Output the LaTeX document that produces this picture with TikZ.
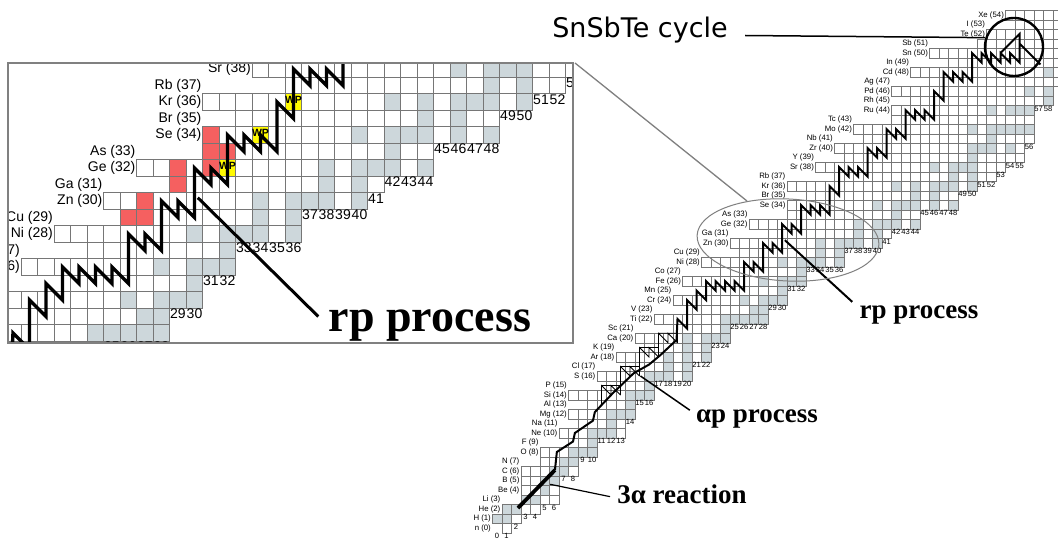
\documentclass[tikz,border=0pt]{standalone}
\usepackage{fontspec}
\setmainfont{Liberation Serif}
\setsansfont{Liberation Sans}
\newfontfamily\cyclefont{DejaVu Sans}
\usetikzlibrary{calc}

\definecolor{stablegray}{RGB}{205,215,219}
\definecolor{cellgray}{RGB}{118,118,118}
\definecolor{framegray}{RGB}{128,128,128}
\definecolor{unboundred}{RGB}{245,96,96}
\definecolor{wpyellow}{RGB}{255,250,0}

\tikzset{
  cell/.style={draw=cellgray, line width=0.45pt},
  elname/.style={anchor=east, inner sep=1.2pt, font=\sffamily\fontsize{7.8}{8}\selectfont},
  nnum/.style={inner sep=0pt, font=\sffamily\fontsize{7.6}{8}\selectfont},
  rpline/.style={line width=2pt},
  tripleline/.style={line width=3.8pt},
  apline/.style={line width=0.8pt},
  leader/.style={line width=1.5pt},
  proclabel/.style={anchor=base, inner sep=0pt, font=\bfseries\fontsize{27}{30}\selectfont},
  wptext/.style={inner sep=0pt, font=\sffamily\bfseries\fontsize{10.5}{11}\selectfont},
  rp path/.style={insert path={
    (6.1,6.1) -- (6.3,8) -- (8,9.1) -- (8.2,10) -- (10.1,11.3) -- (10.3,12.2)
    -- (12.2,14.2) -- (14.4,16.3) -- (16,17.2) -- (17.2,18.2) -- (18.9,19.8)
    -- (19,22) -- (20,21) -- (20,24) -- (21,23) -- (21,25) -- (22,24) -- (22,26)
    -- (23,25) -- (23,26) -- (24,25) -- (24,26) -- (25,25) -- (25,26) -- (26,25)
    -- (26,28) -- (27,27) -- (27,28) -- (28,27) -- (28,30) -- (29,29) -- (29,30)
    -- (30,29) -- (30,32) -- (31,31) -- (31,32) -- (32,31) -- (32,34) -- (33,33)
    -- (33,34) -- (34,33) -- (34,34) -- (35,33) -- (35,36) -- (36,35) -- (36,38)
    -- (37,37) -- (37,38) -- (38,37) -- (38,38) -- (39,37) -- (39,40) -- (40,39)
    -- (40,40) -- (41,39) -- (41,42) -- (42,41) -- (42,42) -- (43,41) -- (43,44)
    -- (44,43) -- (44,44) -- (45,43) -- (45,44) -- (46,43) -- (46,46) -- (47,45)
    -- (47,48) -- (48,47) -- (48,48) -- (49,47) -- (49,48) -- (50,47) -- (50,50)
    -- (51,49) -- (51,50) -- (52,49) -- (52,50) -- (53,49) -- (53,50) -- (54,49)
    -- (54,50) -- (55,49) -- (55,52) -- (53,50)
    (55,51) -- (57.2,48.8)}},
}

% which labels are set (the inset narrows these)
\newcommand{\elzlo}{0}
\newcommand{\elzhi}{99}
\newcommand{\numzlo}{0}
\newcommand{\numnhi}{99}

% stable nuclides (grey), in chart units (N,Z)
\newcommand{\chartfills}{%
  \foreach \z/\stab in {1/{0,1},2/{1,2},3/{3,4},4/{5},5/{5,6},6/{6,7},7/{7,8},
      8/{8,9,10},9/{10},10/{10,11,12},11/{12},12/{12,13,14},13/{14},14/{14,15,16},
      15/{16},16/{16,17,18,20},17/{18,20},18/{18,20,22},19/{20,22},20/{20,22,23,24},
      21/{24},22/{24,25,26,27,28},23/{27,28},24/{26,28,29,30},25/{30},26/{28,30,31,32},
      27/{32},28/{30,32,33,34,36},29/{34,36},30/{34,36,37,38,40},31/{38,40},
      32/{38,40,41,42,44},33/{42},34/{40,42,43,44,46,48},35/{44,46},
      36/{42,44,46,47,48,50},37/{48,50},38/{46,48,49,50},39/{50},40/{50,51,52,54},
      41/{52},42/{50,52,53,54,55,56},44/{52,54,55,56},45/{58},46/{56,58},47/{60},48/{58,60}}
    {\foreach \nn in \stab {\fill[stablegray] (\nn-0.5,\z-0.5) rectangle ++(1,1);}}%
}

% cell grid, element names and neutron numbers
\newcommand{\chartcells}{%
  \foreach \z/\sym/\nmin/\nmax/\lx in {0/n/1/1/-0.5,1/H/0/2/-0.5,2/He/1/4/0.5,
      3/Li/3/6/0.5,4/Be/3/6/2.5,5/B/3/6/2.5,6/C/3/8/2.5,7/N/5/8/2.5,8/O/5/10/4.5,
      9/F/8/10/4.5,10/Ne/7/13/6.5,11/Na/9/13/6.5,12/Mg/8/14/7.5,13/Al/10/14/7.5,
      14/Si/8/16/7.5,15/P/12/16/7.5,16/S/11/20/10.5,17/Cl/14/20/10.5,18/Ar/13/22/12.5,
      19/K/16/22/12.5,20/Ca/15/24/14.5,21/Sc/19/24/14.5,22/Ti/17/28/16.5,
      23/V/21/28/16.5,24/Cr/19/30/18.5,25/Mn/23/30/18.5,26/Fe/20/32/19.5,
      27/Co/24/32/19.5,28/Ni/22/36/21.5,29/Cu/26/36/21.5,30/Zn/25/40/24.5,
      31/Ga/29/41/24.5,32/Ge/27/44/26.5,33/As/31/44/26.5,34/Se/31/48/30.5,
      35/Br/33/48/30.5,36/Kr/31/50/30.5,37/Rb/36/52/30.5,38/Sr/34/53/33.5,
      39/Y/37/55/33.5,40/Zr/36/55/35.5,41/Nb/39/56/35.5,42/Mo/38/56/37.5,
      43/Tc/42/56/37.5,44/Ru/42/56/41.5,45/Rh/44/58/41.5,46/Pd/42/58/41.5,
      47/Ag/46/62/41.5,48/Cd/44/62/43.5,49/In/48/62/43.5,50/Sn/46/62/45.5,
      51/Sb/51/62/45.5,52/Te/52/62/51.5,53/I/55/62/51.5,54/Xe/54/62/53.5}
    {\foreach \nn in {\nmin,...,\nmax} {\draw[cell] (\nn-0.5,\z-0.5) rectangle ++(1,1);}
     \ifnum\z<\elzlo\relax\else\ifnum\z>\elzhi\relax\else
       \node[elname] (el\z) at (\lx,\z) {\sym\ (\z)};
     \fi\fi}
  \foreach \nn/\zl in {0/0,1/0,2/1,3/2,4/2,5/3,6/3,7/6,8/6,9/8,10/8,11/10,12/10,13/10,
      14/12,15/14,16/14,17/16,18/16,19/16,20/16,21/18,22/18,23/20,24/20,25/22,26/22,
      27/22,28/22,29/24,30/24,31/26,32/26,33/28,34/28,35/28,36/28,37/30,38/30,39/30,
      40/30,41/31,42/32,43/32,44/32,45/34,46/34,47/34,48/34,49/36,50/36,51/37,52/37,
      53/38,54/39,55/39,56/41,57/45,58/45}
    {\ifnum\zl<\numzlo\relax\else\ifnum\nn>\numnhi\relax\else
       \node[nnum] (nn\nn) at (\nn,\zl-0.85) {\nn};
     \fi\fi}%
}

% reaction path
\newcommand{\chartpath}{%
  \draw[tripleline] (2.2,2.1) -- (6.1,6.1);
  \draw[rpline, rp path];
  % alpha-p loops
  \foreach \a/\b in {11/13,13/15,15/17,17/18.5}
    {\draw[apline] (\a,\b) -- (\a,\b+2) -- (\a+1,\b+1) -- (\a+1,\b+2) -- (\a+2,\b+1)
       (\a,\b+2) -- (\a+2,\b+2) -- (\a+2,\b+1);}%
}

\begin{document}
\begin{tikzpicture}[x=1pt, y=1pt]
  \useasboundingbox (0,-540) rectangle (1058,0);
  \fill[white] (0,-540) rectangle (1058,0);

  % Main chart of nuclides
  \begin{scope}
    \clip (0,-540) rectangle (1058,0);
    \begin{scope}[shift={(497,-528)}, x=9.5pt, y=9.5pt]
      \chartfills
      \chartcells
      \chartpath
      \coordinate (rpfoot) at (30.3,30.3);
      \coordinate (rptip) at (37.4,23.8);
      \coordinate (apfoot) at (15.1,16);
      \coordinate (aptip) at (20.3,12.4);
      \coordinate (tafoot) at (5.6,4.6);
      \coordinate (tatip) at (11.9,3.3);
    \end{scope}
  \end{scope}

  % Process labels
  \node[proclabel] (rplabel) at (919,-318) {rp process};
  \node[proclabel] (aplabel) at (757,-422) {αp process};
  \node[proclabel] (talabel) at (682,-503) {3α reaction};
  \draw[leader, line width=2pt] (rpfoot) -- (rptip);
  \draw[leader] (apfoot) -- (aptip);
  \draw[leader, line width=1.2pt] (tafoot) -- (tatip);

  % SnSbTe cycle
  \node[draw, circle, minimum size=58pt, inner sep=0pt, line width=2.4pt] (sncycle) at (1014,-47) {};
  \node[inner sep=0pt, anchor=base, font=\cyclefont\fontsize{27}{30}\selectfont] (snlabel) at (640,-38) {SnSbTe cycle};
  \coordinate (sntail) at (745,-35.5);
  \draw[leader] (sntail) -- (sncycle.162);

  % Zoomed region
  \draw[framegray, line width=1pt, rotate around={-3:(788,-240)}] (788,-240) ellipse [x radius=91pt, y radius=41pt];
  \coordinate (insetNE) at (575,-63);
  \coordinate (ellipsetop) at (747,-201);
  \draw[framegray, line width=1.3pt] (insetNE) -- (ellipsetop);

  \begin{scope}
    \clip (8,-63) rectangle (573,-343);
    \fill[white] (8,-63) rectangle (573,-343);
    \renewcommand{\elzlo}{26}
    \renewcommand{\elzhi}{38}
    \renewcommand{\numzlo}{22}
    \renewcommand{\numnhi}{53}
    \begin{scope}[shift={(-300.5,-696)}, x=16.5pt, y=16.5pt,
        cell/.append style={line width=0.8pt},
        elname/.append style={font=\sffamily\fontsize{14}{15}\selectfont},
        nnum/.append style={font=\sffamily\fontsize{14}{15}\selectfont},
        rpline/.append style={line width=3.4pt}]
      \chartfills
      \foreach \nn/\z in {31/34,31/33,32/33,29/32,31/32,29/31,27/30,26/29,27/29}
        {\fill[unboundred] (\nn-0.5,\z-0.5) rectangle ++(1,1);}
      \foreach \nn/\z in {32/32,34/34,36/36}
        {\fill[wpyellow] (\nn-0.5,\z-0.5) rectangle ++(1,1);}
      \chartcells
      \foreach \nn/\z in {32/32,34/34,36/36}
        {\node[wptext] (wp\nn) at (\nn,\z+0.1) {WP};}
      \chartpath
      \coordinate (irpfoot) at (30.2,30.2);
      \coordinate (irptip) at (37.5,23);
    \end{scope}
    \draw[line width=3pt] (irpfoot) -- (irptip);
    \node[proclabel, font=\bfseries\fontsize{46}{50}\selectfont] (irplabel) at (430,-331) {rp process};
  \end{scope}
  \draw[framegray, line width=2pt] (8,-63) rectangle (573,-343);
\end{tikzpicture}
\end{document}
